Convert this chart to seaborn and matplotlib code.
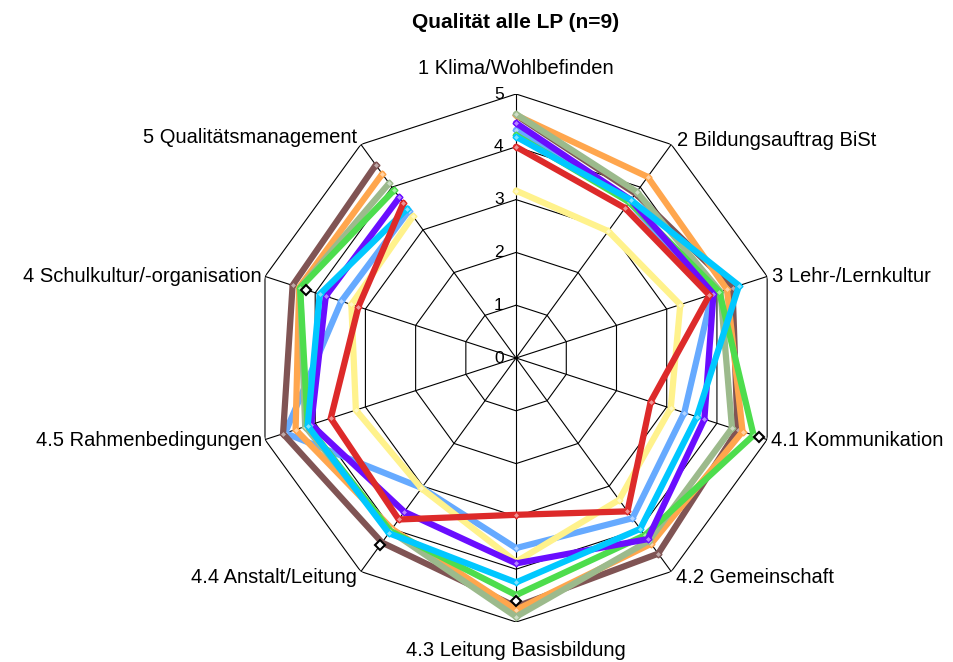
import numpy as np
import pandas as pd
import matplotlib
matplotlib.use("Agg")
import matplotlib.pyplot as plt
import matplotlib.colors as mcolors
import seaborn as sns

# Categories (clockwise from top)
categories = ["1 Klima/Wohlbefinden", "2 Bildungsauftrag BiSt", "3 Lehr-/Lernkultur",
              "4.1 Kommunikation", "4.2 Gemeinschaft", "4.3 Leitung Basisbildung",
              "4.4 Anstalt/Leitung", "4.5 Rahmenbedingungen",
              "4 Schulkultur/-organisation", "5 Qualitätsmanagement"]

# one series per LP
lp_hellblau = [4.32, 3.65, 3.90, 3.35, 3.75, 3.60, 3.04, 4.60, 3.48, 3.45]
lp_gelb = [3.17, 2.97, 3.27, 3.08, 3.32, 3.86, 3.05, 3.19, 3.28, 3.32]
lp_braun = [4.60, 3.85, 4.31, 4.41, 4.58, 4.71, 4.32, 4.64, 4.45, 4.52]
lp_orange = [4.60, 4.24, 4.20, 4.51, 4.35, 4.77, 4.00, 4.39, 4.32, 4.31]
lp_salbei = [4.62, 3.89, 4.07, 4.30, 4.28, 4.90, 4.05, 4.20, 4.30, 4.09]
lp_gruen = [4.22, 3.65, 4.05, 4.73, 4.15, 4.49, 4.05, 4.15, 4.30, 3.93]
lp_violett = [4.45, 3.70, 3.93, 3.75, 4.24, 3.89, 3.60, 4.08, 3.79, 3.76]
lp_cyan = [4.19, 3.70, 4.44, 3.60, 4.00, 4.25, 4.10, 4.15, 3.91, 3.50]
lp_rot = [4.00, 3.51, 3.85, 2.68, 3.59, 2.97, 3.78, 3.69, 3.14, 3.63]
# black marker points (only where visible)
schwarz = [np.nan, np.nan, np.nan, 4.84, np.nan, 4.60, 4.37, np.nan, 4.19, np.nan]

series = {
    "hellblau": (lp_hellblau, "#66aaff"),
    "gelb": (lp_gelb, "#fff28c"),
    "braun": (lp_braun, "#805454"),
    "orange": (lp_orange, "#ffa64d"),
    "salbei": (lp_salbei, "#9cba8c"),
    "gruen": (lp_gruen, "#4ddd4d"),
    "violett": (lp_violett, "#6a0dff"),
    "cyan": (lp_cyan, "#00c8ff"),
    "rot": (lp_rot, "#dd2a2a"),
}

sns.set_style("white")
plt.rcParams["font.family"] = ["Liberation Sans", "DejaVu Sans"]
plt.rcParams["text.color"] = "black"

n = len(categories)
angles = np.arange(n) * 2 * np.pi / n

fig = plt.figure(figsize=(9.54, 6.62), dpi=100)
ax = fig.add_axes([0.2642, 0.0604, 0.5535, 0.7976], projection="polar")
ax.set_theta_zero_location("N")
ax.set_theta_direction(-1)

# polygon grid + spokes
closed = np.append(angles, angles[0])
for r in range(1, 6):
    ax.plot(closed, [r] * (n + 1), color="black", lw=0.8, zorder=1)
for a in angles:
    ax.plot([a, a], [0, 5], color="black", lw=0.8, zorder=1)

for name, (vals, col) in series.items():
    df = pd.DataFrame({"angle": closed, "wert": vals + [vals[0]]})
    light = 0.5 * np.array(mcolors.to_rgb(col)) + 0.5
    sns.lineplot(data=df, x="angle", y="wert", sort=False, color=col, lw=4.5,
                 marker="D", markersize=3.5, markerfacecolor=light,
                 markeredgecolor=col, markeredgewidth=1, ax=ax, zorder=3)

ax.plot(angles, schwarz, linestyle="none", marker="D", markersize=5,
        markerfacecolor="white", markeredgecolor="black", markeredgewidth=1.5, zorder=4)

ax.set_ylim(0, 5)
ax.set_xticks([])
ax.set_yticks([])
ax.set_xlabel("")
ax.set_ylabel("")
ax.grid(False)
ax.spines["polar"].set_visible(False)

# radial scale labels
for r in range(0, 6):
    ax.annotate(str(r), xy=(0, r), xytext=(-9, 0), textcoords="offset points",
                ha="right", va="center", fontsize=12.5)

# category labels (offsets in pixels)
px = 0.72
label_pos = [((0, 26), "center"), ((6, 4), "left"), ((5, 0), "left"), ((4, -1), "left"),
             ((5, -6), "left"), ((0, -28), "center"), ((-4, -6), "right"),
             ((-3, -1), "right"), ((-3, 0), "right"), ((-4, 7), "right")]
for a, lab, ((dx, dy), ha) in zip(angles, categories, label_pos):
    ax.annotate(lab, xy=(a, 5), xytext=(dx * px, dy * px), textcoords="offset points",
                ha=ha, va="center", fontsize=14.5, annotation_clip=False)

fig.text(516 / 954, 1 - 22 / 662, "Qualität alle LP (n=9)", ha="center", va="center",
         fontsize=15, fontweight="bold")

fig.savefig("out.png", dpi=100)
